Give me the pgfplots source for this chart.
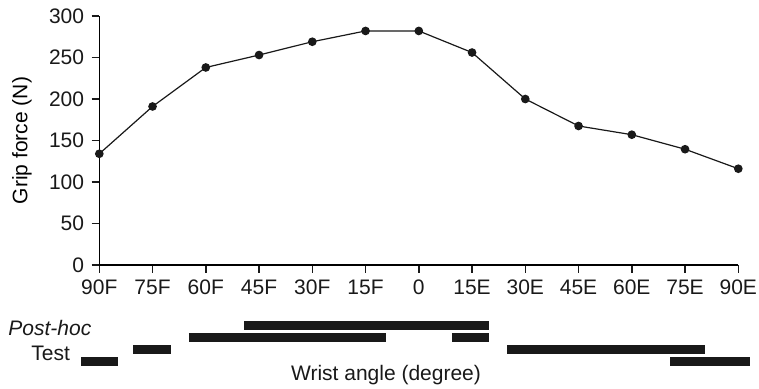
\documentclass[border=0pt]{standalone}
\usepackage{pgfplots}
\pgfplotsset{compat=1.18}
\usepackage{fontspec}
\setmainfont{Liberation Sans}
\begin{document}
\fontsize{10.5}{12.6}\selectfont
\begin{tikzpicture}
\begin{axis}[
  at={(0,0)}, anchor=south west,
  scale only axis, width=319.5pt, height=124.5pt,
  xmin=0, xmax=12, ymin=0, ymax=300,
  axis x line=bottom, axis y line=left,
  x axis line style={-},
  y axis line style={-},
  line width=0.65pt,
  tick align=outside,
  major tick length=3.8pt,
  every tick/.style={black!90, line width=0.7pt},
  xtick={0,...,12},
  xticklabels={90F,75F,60F,45F,30F,15F,0,15E,30E,45E,60E,75E,90E},
  ytick={0,50,...,300},
  clip=false,
  /pgf/number format/assume math mode=true,
  tick label style={font=\fontsize{10.5}{12.6}\selectfont, text=black!90},
  ylabel={Grip force (N)},
  every axis y label/.style={at={(axis description cs:0,0.5)}, rotate=90, anchor=center, yshift=38.65pt},
]
\addplot[black!90, line width=0.6pt, mark=*, mark size=1.85pt] coordinates {
  (0,134) (1,191) (2,238) (3,253) (4,269) (5,282) (6,282)
  (7,256) (8,200) (9,167.5) (10,157) (11,139.5) (12,116)
};
\addplot[black!90, line width=4.35pt, forget plot] coordinates {(-0.34,-116.3) (0.345,-116.3)};
\addplot[black!90, line width=4.35pt, forget plot] coordinates {(0.64,-101.8) (1.35,-101.8)};
\addplot[black!90, line width=4.35pt, forget plot] coordinates {(1.68,-87.2) (5.38,-87.2)};
\addplot[black!90, line width=4.35pt, forget plot] coordinates {(2.72,-72.9) (7.32,-72.9)};
\addplot[black!90, line width=4.35pt, forget plot] coordinates {(6.62,-87.2) (7.32,-87.2)};
\addplot[black!90, line width=4.35pt, forget plot] coordinates {(7.66,-101.8) (11.37,-101.8)};
\addplot[black!90, line width=4.35pt, forget plot] coordinates {(10.72,-116.3) (12.22,-116.3)};
\end{axis}
\node[anchor=base west, inner sep=0, text=black!90] at (-45.65pt,-35pt) {\itshape Post-hoc};
\node[anchor=base west, inner sep=0, text=black!90] at (-34.15pt,-47.5pt) {Test};
\node[anchor=base, inner sep=0, text=black!90] at (143.35pt,-57.5pt) {Wrist angle (degree)};
\pgfresetboundingbox
\path (-49.65pt,-61.5pt) rectangle (329.85pt,132.5pt);
\end{tikzpicture}
\end{document}
